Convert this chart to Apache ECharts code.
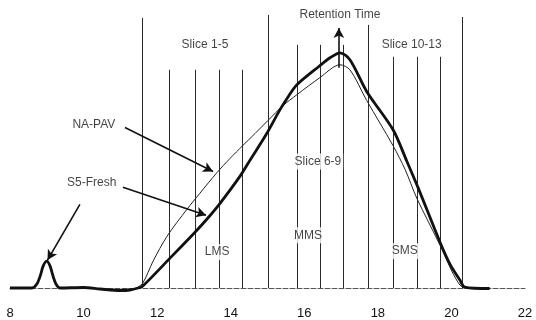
<!DOCTYPE html>
<html>
<head>
<meta charset="utf-8">
<script src="https://cdn.jsdelivr.net/npm/echarts@6/dist/echarts.min.js"></script>
<style>html,body{margin:0;padding:0;background:#fff}#c{width:536px;height:320px}</style>
</head>
<body>
<div id="c"></div>
<script>
// Retention time (x) vs detector signal (arbitrary units, y)
const s5FreshX = [8.0, 8.6, 8.73, 8.83, 8.9, 9.0, 9.09, 9.17, 9.25, 9.36, 10.0, 10.45, 11.0, 11.26, 11.48, 11.61, 12.35, 13.03, 13.35, 13.71, 14.25, 14.52, 14.98, 15.34, 15.58, 15.80, 16.42, 16.70, 16.97, 17.24, 17.70, 18.41, 18.79, 19.09, 19.69, 19.96, 20.23, 20.36, 21.04];
const s5FreshY = [0, 0, 4, 13, 22, 27, 22, 12, 4, 0, 0.5, -1, -2.5, -2, 0, 2, 30, 56, 69, 85, 112, 128, 155, 179, 193, 204, 223, 231, 236, 229, 197, 159, 127, 101, 46, 24, 8, 1, -0.5];
const naPavX = [11.40, 11.61, 11.89, 12.27, 12.81, 13.16, 13.63, 13.98, 14.33, 14.66, 15.01, 15.42, 15.80, 16.42, 16.97, 17.24, 17.70, 18.41, 18.74, 19.06, 19.69, 20.01, 20.23, 20.36];
const naPavY = [-1, 5, 27, 52, 79, 95, 116, 130, 143, 155, 168, 183, 194, 211, 224, 219, 188, 143, 119, 90, 43, 17, 3, 0];

// slice boundary lines: retention time and top of each line
const sliceX = [11.58, 12.33, 13.03, 13.69, 14.30, 15.02, 15.79, 16.42, 17.06, 17.74, 18.40, 19.07, 19.68, 20.30];
const sliceTop = [271, 219, 219, 219, 219, 274, 244, 244, 244, 264, 232, 232, 232, 272];

const xTicks = [8, 10, 12, 14, 16, 18, 20, 22];

// annotation texts [x, y, text]
const notes = [
  [16.97, 274, 'Retention Time'],
  [13.30, 244, 'Slice 1-5'],
  [18.92, 244, 'Slice 10-13'],
  [16.37, 127, 'Slice 6-9'],
  [16.10, 53, 'MMS'],
  [13.63, 36, 'LMS'],
  [18.73, 37, 'SMS'],
  [10.28, 164, 'NA-PAV'],
  [10.22, 106, 'S5-Fresh']
];
// arrows [x1, y1, x2, y2]
const arrows = [
  [11.125, 161, 13.52, 117],
  [11.07, 101, 13.33, 73],
  [9.90, 84, 9.02, 28],
  [16.94, 221, 16.94, 261]
];

const zip = (xs, ys) => xs.map((x, i) => [x, ys[i]]);

const chart = echarts.init(document.getElementById('c'));
chart.setOption({
  animation: false,
  backgroundColor: '#fff',
  grid: { left: 10, right: 11, top: 0, bottom: 26 },
  xAxis: {
    type: 'value', min: xTicks[0], max: xTicks[xTicks.length - 1], interval: 2,
    axisLine: { onZero: true, lineStyle: { color: '#555', width: 1, type: [5, 2] } },
    axisTick: { show: false },
    splitLine: { show: false },
    axisLabel: { color: '#111', fontSize: 13, fontFamily: 'Liberation Sans, Arial', margin: 14 }
  },
  yAxis: {
    type: 'value', min: -5, max: 289, show: false,
    splitLine: { show: false }
  },
  series: [
    {
      type: 'custom',
      z: 1,
      data: zip(sliceX, sliceTop),
      renderItem: function (params, api) {
        const p1 = api.coord([api.value(0), api.value(1)]);
        const p0 = api.coord([api.value(0), 0]);
        return {
          type: 'line',
          shape: { x1: Math.round(p0[0]) + 0.5, y1: p0[1], x2: Math.round(p1[0]) + 0.5, y2: p1[1] },
          style: { stroke: '#2a2a2a', lineWidth: 1 }
        };
      }
    },
    {
      name: 'NA-PAV', type: 'line', z: 3, smooth: 0.3, showSymbol: false,
      data: zip(naPavX, naPavY),
      lineStyle: { color: '#222', width: 1 }
    },
    {
      name: 'S5-Fresh', type: 'line', z: 4, smooth: 0.3, showSymbol: false,
      data: zip(s5FreshX, s5FreshY),
      lineStyle: { color: '#111', width: 2.8 },
      markLine: {
        silent: true,
        symbol: ['none', 'arrow'],
        symbolSize: [8, 10],
        label: { show: false },
        lineStyle: { color: '#111', width: 1.6, type: 'solid' },
        data: arrows.map(a => [{ coord: [a[0], a[1]] }, { coord: [a[2], a[3]] }])
      }
    },
    {
      type: 'scatter', z: 10, symbolSize: 0,
      data: notes.map(n => ({ value: [n[0], n[1]], name: n[2] })),
      label: {
        show: true, position: 'inside',
        formatter: p => p.name,
        color: '#111', fontSize: 12, fontFamily: 'Liberation Sans, Arial',
        backgroundColor: '#fff', padding: [2, 2]
      }
    }
  ]
});
</script>
</body>
</html>
